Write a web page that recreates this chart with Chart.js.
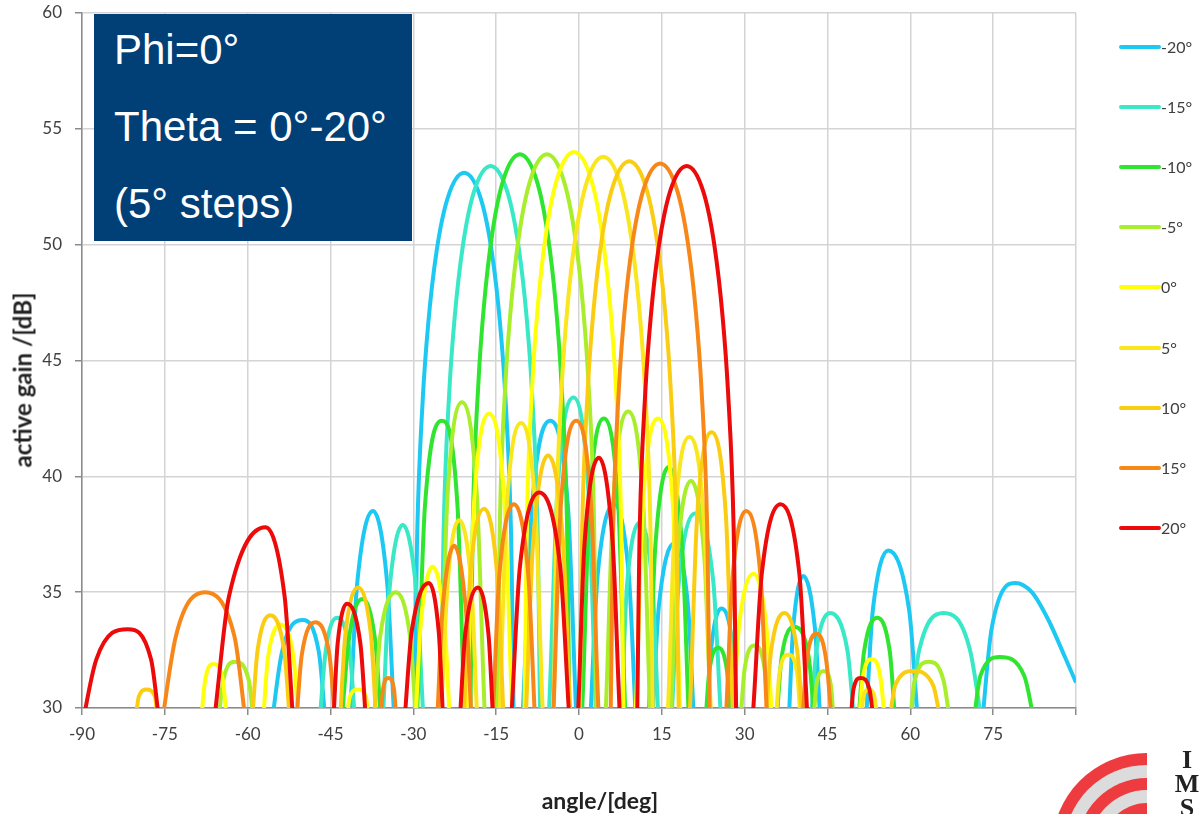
<!DOCTYPE html>
<html>
<head>
<meta charset="utf-8">
<script src="https://cdn.jsdelivr.net/npm/chart.js@4.4.1/dist/chart.umd.min.js"></script>
<style>
  html, body { margin: 0; padding: 0; background: #fff; }
  body { width: 1202px; height: 814px; position: relative; overflow: hidden; font-family: Lato, sans-serif; }
  #chart { position: absolute; left: 0; top: 0; }
  #infoBox {
    position: absolute; left: 94px; top: 14px; width: 318px; height: 227px;
    background: #013f77; color: #fff;
    font-family: "Liberation Sans", Arial, sans-serif; font-size: 42px; line-height: 77px;
    box-sizing: border-box; padding-left: 20px;
  }
  #infoBox .lines { margin-top: -3px; }
  .axis-title { position: absolute; font-weight: bold; font-size: 23px; color: #222; white-space: nowrap; }
  #xTitle { left: 600px; top: 800px; transform: translate(-50%, -50%); }
  #yTitle { left: 22px; top: 380px; transform: translate(-50%, -50%) rotate(-90deg); font-size: 24px; }
  #legend { position: absolute; left: 1119px; top: 0; }
  .leg-item { position: absolute; left: 0; height: 20px; white-space: nowrap; font-size: 16px; color: #404040; }
  .leg-line { position: absolute; left: 0; top: 8px; width: 42px; height: 4px; border-radius: 2px; }
  .leg-text { position: absolute; left: 42px; top: 0; line-height: 20px; }
  #logo { position: absolute; left: 0; top: 0; }
  #logoText {
    position: absolute; left: 1170px; top: 748px; width: 34px; text-align: center;
    font-family: "Liberation Serif", serif; font-weight: bold; font-size: 26px; line-height: 24px; color: #222;
  }
</style>
</head>
<body>
<canvas id="chart" width="1202" height="814"></canvas>
<div id="infoBox"><div class="lines"><div>Phi=0°</div><div>Theta = 0°-20°</div><div>(5° steps)</div></div></div>
<div class="axis-title" id="xTitle">angle/[deg]</div>
<div class="axis-title" id="yTitle">active gain /[dB]</div>
<div id="legend"></div>
<svg id="logo" width="1202" height="814">
  <defs><clipPath id="logoClip"><rect x="1000" y="700" width="147" height="114"/></clipPath></defs>
  <g clip-path="url(#logoClip)">
    <circle cx="1147" cy="848" r="95" fill="#ee3b3f"/>
    <circle cx="1147" cy="848" r="83" fill="#dcdcdc"/>
    <circle cx="1147" cy="848" r="70" fill="#ee3b3f"/>
    <circle cx="1147" cy="848" r="58" fill="#dcdcdc"/>
    <circle cx="1147" cy="848" r="45" fill="#ee3b3f"/>
  </g>
</svg>
<div id="logoText">I<br>M<br>S</div>
<script>
// ---------------- DONNÉES ----------------

const thetaLabels = ['-20°', '-15°', '-10°', '-5°', '0°', '5°', '10°', '15°', '20°'];
const angleTicks = [-90, -75, -60, -45, -30, -15, 0, 15, 30, 45, 60, 75];
const gainTicks = [30, 35, 40, 45, 50, 55, 60];

// gain actif [dB] en fonction de l'angle [deg], un tableau par dépointage
const gainThetaM20 = [
  [-56.3, 28], [-53.8, 32.4], [-50, 33.8], [-47.1, 32.4], [-45.1, 28],
  [-42.1, 28], [-40.2, 35.3], [-37.3, 38.5], [-34.7, 35.3], [-32.9, 28],
  [-30.0, 27.5], [-29.3, 37.5], [-28.3, 43.3], [-27.3, 46.6], [-25.8, 49.7], [-23.8, 52.0], [-20.8, 53.1],
  [-17.8, 52.0], [-15.8, 49.7], [-14.3, 46.6], [-13.3, 43.3], [-12.3, 37.5], [-11.6, 27.5],
  [-10.7, 28], [-8.5, 38.7], [-5.2, 42.4], [-2.0, 38.7], [0.1, 28],
  [1.4, 28], [3.4, 35.8], [6.4, 38.8], [9.0, 35.8], [10.9, 28],
  [12.6, 28], [14.5, 34.5], [17.2, 37.1], [19.7, 34.5], [21.4, 28],
  [22.6, 28], [24.0, 32.7], [25.8, 34.3], [27.8, 32.7], [29.2, 28],
  [37.5, 28], [38.8, 33.5], [40.6, 35.7], [42.7, 33.5], [44.3, 28],
  [51.3, 28], [53.2, 34.2], [56, 36.8], [59.8, 34.2], [62.2, 28],
  [72.0, 28], [74.7, 33.4], [77.5, 35.3], [79, 35.4], [82, 35.0], [85, 33.8], [88, 32.2], [90, 31.1]
];
const gainThetaM15 = [
  [-47.4, 28], [-45.9, 32.4], [-43.8, 33.9], [-41.5, 32.4], [-39.9, 28],
  [-36.1, 28], [-34.4, 34.9], [-31.9, 37.9], [-29.4, 34.9], [-27.6, 28],
  [-25.2, 27.5], [-24.5, 37.8], [-23.5, 43.6], [-22.5, 46.9], [-21, 50], [-19, 52.3], [-16, 53.4],
  [-13, 52.3], [-11, 50], [-9.5, 46.9], [-8.5, 43.6], [-7.5, 37.8], [-6.8, 27.5],
  [-5.9, 28], [-3.9, 39.4], [-1, 43.4], [1.7, 39.4], [3.6, 28],
  [7.1, 28], [8.7, 35.3], [11, 38.0], [13.3, 35.3], [14.9, 28],
  [16.1, 28], [18.1, 35.5], [21, 38.4], [24.3, 35.5], [26.4, 28],
  [41.3, 28], [43.0, 32.5], [45.5, 34.1], [48.6, 32.5], [50.7, 28],
  [58.9, 28], [61.6, 32.5], [66, 34.1], [70.8, 32.5], [73.7, 28]
];
const gainThetaM10 = [
  [-43.4, 28], [-41.7, 32.9], [-39.2, 34.7], [-36.9, 32.9], [-35.2, 28],
  [-29.9, 28], [-27.9, 38.7], [-24.9, 42.4], [-22.0, 38.7], [-20.4, 28],
  [-19.9, 27.5], [-19.2, 38.3], [-18.2, 44.1], [-17.2, 47.4], [-15.7, 50.5], [-13.7, 52.8], [-10.7, 53.9],
  [-7.7, 52.8], [-5.7, 50.5], [-4.2, 47.4], [-3.2, 44.1], [-2.2, 38.3], [-1.5, 27.5],
  [0.1, 28], [1.9, 38.8], [4.5, 42.5], [7.1, 38.8], [8.9, 28],
  [12.1, 28], [13.8, 36.9], [16.2, 40.4], [18.7, 36.9], [20.4, 28],
  [22.3, 28], [23.6, 31.6], [25.2, 32.6], [26.8, 31.6], [28.1, 28],
  [35.1, 28], [36.7, 32.2], [39, 33.5], [41.6, 32.2], [43.4, 28],
  [49.9, 28], [51.6, 32.4], [54, 33.9], [56.3, 32.4], [57.9, 28],
  [70.4, 28], [72.7, 31.4], [76.2, 32.2], [80.6, 31.4], [83.4, 28]
];
const gainThetaM5 = [
  [-65.9, 28], [-64.4, 31.2], [-62.3, 32.0], [-59.8, 31.2], [-58.1, 28],
  [-37.9, 28], [-36.0, 33.1], [-33.2, 35.0], [-30.6, 33.1], [-28.8, 28],
  [-25.6, 28], [-23.8, 39.2], [-21.2, 43.2], [-18.5, 39.2], [-16.6, 28],
  [-15, 27.5], [-14.3, 38.3], [-13.3, 44.1], [-12.3, 47.4], [-10.8, 50.5], [-8.8, 52.8], [-5.8, 53.9],
  [-2.8, 52.8], [-0.8, 50.5], [0.7, 47.4], [1.7, 44.1], [2.7, 38.3], [3.4, 27.5],
  [4.4, 28], [6.2, 38.9], [8.9, 42.8], [11.6, 38.9], [13.4, 28],
  [16.1, 28], [17.8, 36.5], [20.3, 39.8], [22.7, 36.5], [24.4, 28],
  [28.6, 28], [30.0, 31.7], [31.8, 32.7], [33.6, 31.7], [35.0, 28],
  [41.9, 28], [43.0, 31.0], [44.3, 31.6], [45.6, 31.0], [46.7, 28],
  [59.1, 28], [60.8, 31.2], [63.3, 32.0], [66.0, 31.2], [67.9, 28]
];
const gainTheta0 = [
  [-68.9, 28], [-67.7, 31.2], [-66.2, 31.9], [-64.5, 31.2], [-63.1, 28],
  [-57.9, 28], [-56.3, 32.2], [-54, 33.6], [-51.7, 32.2], [-50.1, 28],
  [-42.7, 28], [-41.5, 30.5], [-40, 30.8], [-38.6, 30.5], [-37.4, 28],
  [-30.2, 28], [-28.6, 33.8], [-26.5, 36.1], [-24.4, 33.8], [-22.8, 28],
  [-20.9, 28], [-19.0, 38.9], [-16.3, 42.7], [-13.5, 38.9], [-11.6, 28],
  [-10.1, 27.5], [-9.4, 38.4], [-8.4, 44.2], [-7.4, 47.5], [-5.9, 50.6], [-3.9, 52.9], [-0.9, 54],
  [2.1, 52.9], [4.1, 50.6], [5.6, 47.5], [6.6, 44.2], [7.6, 38.4], [8.3, 27.5],
  [9.8, 28], [11.6, 38.8], [14.3, 42.5], [17.0, 38.8], [18.9, 28],
  [27.2, 28], [29.0, 33.6], [31.6, 35.8], [33.9, 33.6], [35.6, 28],
  [50.1, 28], [51.4, 31.3], [53, 32.1], [54.6, 31.3], [55.9, 28]
];
const gainTheta5 = [
  [-25.3, 28], [-23.8, 35.3], [-21.7, 38.1], [-19.5, 35.3], [-17.9, 28],
  [-14.9, 28], [-13.1, 38.6], [-10.5, 42.3], [-7.9, 38.6], [-6.1, 28],
  [-4.8, 27.5], [-4.1, 38.2], [-3.1, 44], [-2.1, 47.3], [-0.6, 50.4], [1.4, 52.7], [4.4, 53.8],
  [7.4, 52.7], [9.4, 50.4], [10.9, 47.3], [11.9, 44], [12.9, 38.2], [13.6, 27.5],
  [15.6, 28], [17.4, 38.2], [20, 41.7], [22.6, 38.2], [24.4, 28],
  [35.1, 28], [36.3, 31.5], [37.9, 32.3], [39.5, 31.5], [40.7, 28],
  [50.6, 28], [51.5, 30.5], [52.5, 30.8], [53.5, 30.5], [54.4, 28]
];
const gainTheta10 = [
  [-80.9, 28], [-79.7, 30.5], [-78.3, 30.8], [-76.8, 30.5], [-75.6, 28],
  [-59.9, 28], [-58.2, 32.5], [-55.9, 34.0], [-53.4, 32.5], [-51.6, 28],
  [-43.9, 28], [-42.3, 33.2], [-40, 35.2], [-37.7, 33.2], [-36.1, 28],
  [-21.4, 28], [-19.7, 35.7], [-17.2, 38.6], [-14.8, 35.7], [-13.1, 28],
  [-10.2, 28], [-8.3, 37.2], [-5.6, 40.9], [-2.9, 37.2], [-1.1, 28],
  [-0.1, 27.5], [0.6, 38], [1.6, 43.8], [2.6, 47.1], [4.1, 50.2], [6.1, 52.5], [9.1, 53.6],
  [12.1, 52.5], [14.1, 50.2], [15.6, 47.1], [16.6, 43.8], [17.6, 38], [18.3, 27.5],
  [19.6, 28], [21.4, 38.3], [24, 41.9], [26.6, 38.3], [28.4, 28],
  [33.1, 28], [34.8, 32.5], [37.2, 34.1], [39.5, 32.5], [41.2, 28],
  [55.1, 28], [57.3, 31.0], [60.5, 31.6], [64.1, 31.0], [66.4, 28]
];
const gainTheta15 = [
  [-76.3, 28], [-73.0, 33.1], [-67.7, 35.0], [-62.4, 33.1], [-59.1, 28],
  [-51.9, 28], [-50.2, 32.3], [-47.7, 33.7], [-45.2, 32.3], [-43.4, 28],
  [-36.4, 28], [-35.5, 30.8], [-34.5, 31.3], [-33.5, 30.8], [-32.6, 28],
  [-26.2, 28], [-24.7, 34.3], [-22.6, 37.0], [-20.5, 34.3], [-18.9, 28],
  [-16.2, 28], [-14.4, 35.8], [-11.8, 38.8], [-9.2, 35.8], [-7.4, 28],
  [-5.2, 28], [-3.3, 38.7], [-0.5, 42.4], [2.2, 38.7], [4.0, 28],
  [5.5, 27.5], [6.2, 37.9], [7.2, 43.7], [8.2, 47], [9.7, 50.1], [11.7, 52.4], [14.7, 53.5],
  [17.7, 52.4], [19.7, 50.1], [21.2, 47], [22.2, 43.7], [23.2, 37.9], [23.9, 27.5],
  [26.1, 28], [27.8, 35.6], [30.3, 38.5], [32.9, 35.6], [34.6, 28],
  [39.9, 28], [41.2, 32.0], [43, 33.2], [44.8, 32.0], [46.2, 28]
];
const gainTheta20 = [
  [-90.9, 28], [-87.4, 32.1], [-81.7, 33.4], [-77.5, 32.1], [-74.9, 28],
  [-67.4, 28], [-63.4, 34.8], [-56.8, 37.8], [-53.3, 34.8], [-51.0, 28],
  [-45.0, 28], [-43.7, 32.8], [-42, 34.5], [-39.6, 32.8], [-37.9, 28],
  [-32.4, 28], [-30.3, 33.3], [-27.2, 35.4], [-25.4, 33.3], [-24.1, 28],
  [-22.2, 28], [-20.6, 33.2], [-18.3, 35.2], [-16.4, 33.2], [-15.0, 28],
  [-13.0, 28], [-10.7, 36.1], [-7.2, 39.3], [-3.4, 36.1], [-1.0, 28],
  [-0.7, 28], [1.0, 37.1], [3.6, 40.8], [6.1, 37.1], [7.9, 28],
  [10.3, 27.5], [11, 37.8], [12, 43.6], [13, 46.9], [14.5, 50], [16.5, 52.3], [19.5, 53.4],
  [22.5, 52.3], [24.5, 50], [26, 46.9], [27, 43.6], [28, 37.8], [28.7, 27.5],
  [30.8, 28], [33.1, 35.8], [36.5, 38.8], [39.9, 35.8], [42.1, 28],
  [48.6, 28], [49.7, 30.8], [51, 31.3], [52.6, 30.8], [53.9, 28]
];

const seriesValues = [gainThetaM20, gainThetaM15, gainThetaM10, gainThetaM5, gainTheta0,
                      gainTheta5, gainTheta10, gainTheta15, gainTheta20];
const seriesColors = ['#1dc9f2', '#38e8c6', '#2fe52f', '#a8ee2a', '#ffff0a',
                      '#fae61c', '#fbcd12', '#f8871a', '#ec0a0a'];

// ---------------- GRAPHIQUE ----------------

Chart.defaults.font.family = 'Lato, sans-serif';
Chart.defaults.color = '#404040';

const ctx = document.getElementById('chart');
const nb = seriesValues.length;

const chart = new Chart(ctx, {
    type: 'scatter',
    data: {
        datasets: seriesValues.map((values, i) => ({
            label: thetaLabels[i],
            data: values,
            showLine: true,
            borderColor: seriesColors[i],
            backgroundColor: seriesColors[i],
            borderWidth: 4,
            pointRadius: 0,
            cubicInterpolationMode: 'monotone',
            order: nb - 1 - i // la dernière série passe devant
        }))
    },
    options: {
        responsive: false,
        animation: false,
        devicePixelRatio: 1,
        layout: { padding: { left: 0, top: 13, right: 126, bottom: 0 } },
        plugins: {
            legend: { display: false },
            tooltip: { enabled: false }
        },
        scales: {
            x: {
                type: 'linear',
                min: -90,
                max: 90,
                afterFit: (scale) => { scale.height = 106; },
                afterBuildTicks: (scale) => {
                    scale.ticks = angleTicks.concat([90]).map(v => ({ value: v }));
                },
                ticks: {
                    padding: 9,
                    font: { size: 17 },
                    callback: (v) => angleTicks.includes(v) ? String(v) : ''
                },
                grid: { color: '#d4d4d4', lineWidth: 1.5, tickColor: '#8a8a8a', tickLength: 7 },
                border: { color: '#8a8a8a', width: 1.5 }
            },
            y: {
                min: 30,
                max: 60,
                afterFit: (scale) => {
                    scale.width = 82;
                    // le padding des graduations ne doit pas repousser la zone de tracé
                    scale.paddingTop = 8;
                    scale.paddingBottom = 8;
                },
                afterBuildTicks: (scale) => {
                    scale.ticks = gainTicks.map(v => ({ value: v }));
                },
                ticks: { padding: 13, font: { size: 17 } },
                grid: { color: '#d4d4d4', lineWidth: 1.5, tickColor: '#8a8a8a', tickLength: 7 },
                border: { color: '#8a8a8a', width: 1.5 }
            }
        }
    }
});

// ---------------- LÉGENDE ----------------
const legend = document.getElementById('legend');
chart.data.datasets.forEach((ds, i) => {
    const item = document.createElement('div');
    item.className = 'leg-item';
    item.style.top = (37 + i * 60.1) + 'px';
    item.innerHTML = '<span class="leg-line" style="background:' + ds.borderColor + '"></span>' +
                     '<span class="leg-text">' + ds.label + '</span>';
    legend.appendChild(item);
});
</script>
</body>
</html>
